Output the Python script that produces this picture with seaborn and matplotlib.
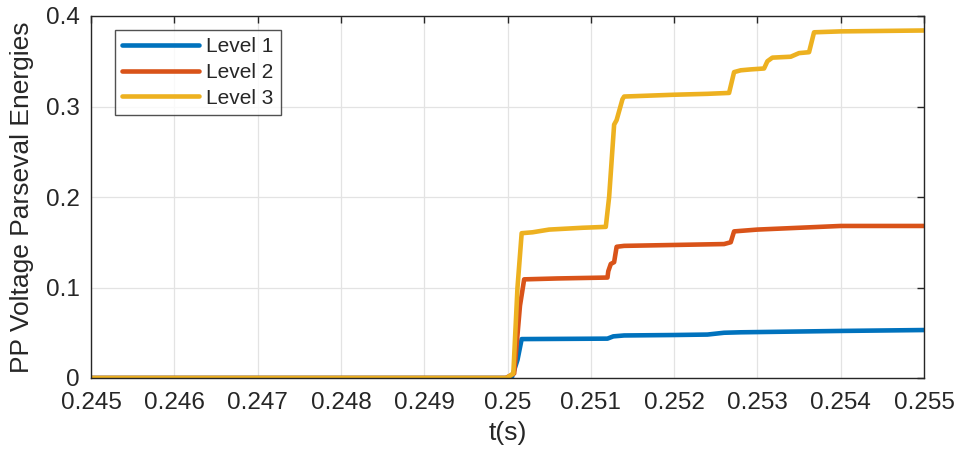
import matplotlib
matplotlib.use("Agg")
import matplotlib.pyplot as plt
import matplotlib.ticker as mticker
import seaborn as sns
import pandas as pd

# Data
t_level1 = [0.245, 0.25005, 0.25012, 0.25017, 0.2512, 0.25127, 0.2514, 0.2520, 0.2524, 0.2526, 0.2528, 0.2532, 0.2540, 0.255]
v_level1 = [0.0, 0.0, 0.02, 0.043, 0.0435, 0.046, 0.047, 0.0475, 0.048, 0.050, 0.0505, 0.051, 0.052, 0.053]

t_level2 = [0.245, 0.24998, 0.25008, 0.25015, 0.2502, 0.2506, 0.2512, 0.25121, 0.25124, 0.25128, 0.25131, 0.2514,
            0.2520, 0.2526, 0.25268, 0.25272, 0.2530, 0.2535, 0.2540, 0.255]
v_level2 = [0.0, 0.0, 0.005, 0.08, 0.109, 0.110, 0.111, 0.118, 0.126, 0.128, 0.145, 0.146,
            0.147, 0.148, 0.150, 0.162, 0.164, 0.166, 0.168, 0.168]

t_level3 = [0.245, 0.24999, 0.25007, 0.25012, 0.25017, 0.2503, 0.2505, 0.2507, 0.2509, 0.25118, 0.25122, 0.25128,
            0.25131, 0.25138, 0.2514, 0.2520, 0.2524, 0.25266, 0.25272, 0.2528, 0.25292, 0.25308, 0.25312, 0.25318,
            0.2534, 0.2535, 0.25362, 0.25368, 0.2540, 0.255]
v_level3 = [0.0, 0.0, 0.005, 0.10, 0.160, 0.161, 0.164, 0.165, 0.166, 0.167, 0.200, 0.280,
            0.285, 0.308, 0.311, 0.313, 0.314, 0.315, 0.338, 0.340, 0.341, 0.342, 0.350, 0.354,
            0.355, 0.359, 0.360, 0.382, 0.383, 0.384]

series_names = ["Level 1", "Level 2", "Level 3"]
series_colors = ["#0072BD", "#D95319", "#EDB120"]
x_ticks = [0.245, 0.246, 0.247, 0.248, 0.249, 0.25, 0.251, 0.252, 0.253, 0.254, 0.255]
y_ticks = [0, 0.1, 0.2, 0.3, 0.4]

df = pd.concat([
    pd.DataFrame({"t": t_level1, "E": v_level1, "series": series_names[0]}),
    pd.DataFrame({"t": t_level2, "E": v_level2, "series": series_names[1]}),
    pd.DataFrame({"t": t_level3, "E": v_level3, "series": series_names[2]}),
], ignore_index=True)

sns.set_theme(style="white")
plt.rcParams["font.family"] = ["Liberation Sans", "DejaVu Sans"]

fig = plt.figure(figsize=(9.61, 4.57), dpi=100)
ax = fig.add_axes([91 / 961, 1 - 378 / 457, (924 - 91) / 961, (378 - 16) / 457])

sns.lineplot(data=df, x="t", y="E", hue="series", palette=dict(zip(series_names, series_colors)),
             estimator=None, sort=False, linewidth=3.3, ax=ax)

ax.set_xlim(0.245, 0.255)
ax.set_ylim(0, 0.4)
ax.set_xticks(x_ticks)
ax.set_yticks(y_ticks)
ax.xaxis.set_major_formatter(mticker.FuncFormatter(lambda v, p: f"{v:g}"))
ax.yaxis.set_major_formatter(mticker.FuncFormatter(lambda v, p: f"{v:g}"))
ax.grid(True, color="#e3e3e3", linewidth=0.9)
ax.set_axisbelow(True)
ax.tick_params(direction="in", length=5, width=1, colors="#262626", labelsize=17.5,
               top=True, right=True, labelcolor="#262626")
ax.tick_params(axis="x", pad=10)
ax.tick_params(axis="y", pad=8)
for s in ax.spines.values():
    s.set_color("#262626")
    s.set_linewidth(1.0)
ax.set_xlabel("t(s)", fontsize=19, color="#262626", labelpad=5)
ax.set_ylabel("PP Voltage Parseval Energies", fontsize=19, color="#262626", labelpad=9)

leg = ax.legend(loc="upper left", bbox_to_anchor=(0.0288, 0.961), borderaxespad=0, fontsize=15,
                frameon=True, fancybox=False, edgecolor="#262626", handlelength=3.7, borderpad=0.35,
                labelspacing=0.32, handletextpad=0.34)
leg.get_frame().set_linewidth(1.0)
for line in leg.get_lines():
    line.set_linewidth(3.3)

fig.savefig("out.png", dpi=100)
